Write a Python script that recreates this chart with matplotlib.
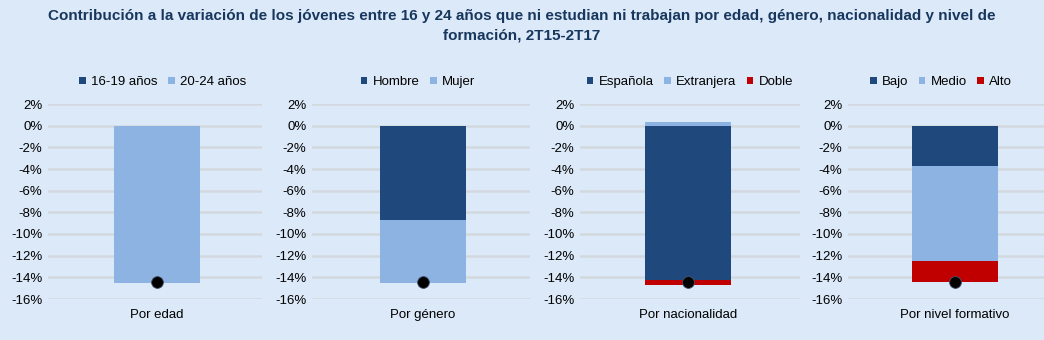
import matplotlib.pyplot as plt
from matplotlib.patches import Patch

# data (percentage points of contribution)
panel_labels = ["Por edad", "Por género", "Por nacionalidad", "Por nivel formativo"]

edad_names = ["16-19 años", "20-24 años"]
edad_values = [-0.05, -14.45]

genero_names = ["Hombre", "Mujer"]
genero_values = [-8.7, -5.8]

nacion_names = ["Española", "Extranjera", "Doble"]
nacion_values = [-14.2, 0.35, -0.55]

formacion_names = ["Bajo", "Medio", "Alto"]
formacion_values = [-3.7, -8.75, -2.0]

totals = [-14.45, -14.45, -14.45, -14.4]

yticks = list(range(-16, 3, 2))

DARK = "#1f497d"
LIGHT = "#8db3e2"
RED = "#c00000"
BG = "#dce9f8"
GRID = "#d2d8de"

plt.rcParams["font.family"] = ["Liberation Sans", "DejaVu Sans"]

W, H = 1044, 340
fig = plt.figure(figsize=(W / 100, H / 100), dpi=100, facecolor=BG)

title_font = ["Liberation Sans Narrow", "Liberation Sans", "DejaVu Sans"]
fig.text(0.5, 1 - 16 / H,
         "Contribución a la variación de los jóvenes entre 16 y 24 años que ni estudian ni trabajan por edad, género, nacionalidad y nivel de",
         ha="center", va="center", fontsize=11, fontweight="bold", color="#17375e",
         family=title_font)
fig.text(0.5, 1 - 36 / H, "formación, 2T15-2T17",
         ha="center", va="center", fontsize=11, fontweight="bold", color="#17375e",
         family=title_font)

panels = [
    (edad_names, edad_values, [DARK, LIGHT]),
    (genero_names, genero_values, [DARK, LIGHT]),
    (nacion_names, nacion_values, [DARK, LIGHT, RED]),
    (formacion_names, formacion_values, [DARK, LIGHT, RED]),
]

# axes layout in pixels: left, right, bar center
layout = [(48, 262, 157), (312, 530, 423), (580, 800, 688), (848, 1044, 955)]
legend_x = [163, 418, 690, 941]
bar_px = 86
y_top, y_bot = 104, 299

for i, ((names, values, colors), (l, r, c)) in enumerate(zip(panels, layout)):
    ax = fig.add_axes([l / W, 1 - y_bot / H, (r - l) / W, (y_bot - y_top) / H])
    ax.set_facecolor(BG)
    scale = 2.0 / (r - l)
    a = -(c - l) * scale
    ax.set_xlim(a, a + 2.0)
    ax.set_ylim(-16, 2)

    pos_base, neg_base = 0.0, 0.0
    for v, col in zip(values, colors):
        if v >= 0:
            ax.bar(0, v, bottom=pos_base, width=bar_px * scale, color=col, zorder=2)
            pos_base += v
        else:
            ax.bar(0, v, bottom=neg_base, width=bar_px * scale, color=col, zorder=2)
            neg_base += v
    ax.plot(0, totals[i], "o", color="black", markersize=8.5,
            markeredgecolor="#44546a", markeredgewidth=0.6, zorder=3)

    ax.set_yticks(yticks)
    ax.set_yticklabels([f"{t}%" for t in yticks], fontsize=9.5)
    ax.set_xticks([0])
    ax.set_xticklabels([panel_labels[i]], fontsize=9.5)
    ax.tick_params(length=0, pad=4)
    ax.tick_params(axis="x", pad=7)
    ax.grid(axis="y", color=GRID, linewidth=1.8, zorder=0)
    ax.set_axisbelow(True)
    for s in ax.spines.values():
        s.set_visible(False)

    handles = [Patch(facecolor=col, edgecolor="none") for col in colors]
    fig.legend(handles, names, loc="center", bbox_to_anchor=(legend_x[i] / W, 1 - 82 / H),
               ncol=len(names), frameon=False, fontsize=9.5, handlelength=0.5,
               handleheight=0.5, handletextpad=0.4, columnspacing=0.8)

fig.savefig("out.png", dpi=100, facecolor=BG)
